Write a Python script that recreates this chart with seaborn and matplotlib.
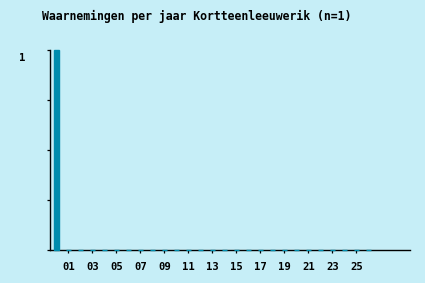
import matplotlib
matplotlib.use("Agg")
import matplotlib.pyplot as plt
import matplotlib.transforms as mtransforms
import seaborn as sns
import pandas as pd

title = "Waarnemingen per jaar Kortteenleeuwerik (n=1)"
years = ["00", "01", "02", "03", "04", "05", "06", "07", "08", "09", "10", "11", "12",
         "13", "14", "15", "16", "17", "18", "19", "20", "21", "22", "23", "24", "25", "26"]
counts = [1, 0, 0, 0, 0, 0, 0, 0, 0, 0, 0, 0, 0,
          0, 0, 0, 0, 0, 0, 0, 0, 0, 0, 0, 0, 0, 0]
tick_labels = ["01", "03", "05", "07", "09", "11", "13", "15", "17", "19", "21", "23", "25"]
y_tick_values = [0, 0.25, 0.5, 0.75, 1]
y_tick_labels = ["", "", "", "", "1"]

bg = "#C6EEF7"
bar_color = "#008CAD"

sns.set_theme(style="white")
plt.rcParams["font.family"] = ["DejaVu Sans Mono"]
plt.rcParams["font.weight"] = "bold"

W, H = 425, 283
fig = plt.figure(figsize=(W / 100, H / 100), dpi=100, facecolor=bg)
ax = fig.add_axes([50 / W, 33 / H, 360 / W, 200 / H])
ax.set_facecolor(bg)

df = pd.DataFrame({"year": years, "count": counts})
sns.barplot(data=df, x="year", y="count", order=years, color=bar_color,
            saturation=1, width=0.4, edgecolor=bar_color, linewidth=1.0, ax=ax)
for p in ax.patches:
    p.set_zorder(3)
    p.set_clip_on(False)

ax.set_xlim(-0.54, 29.46)
ax.set_ylim(0, 1)
ax.set_xlabel("")
ax.set_ylabel("")

ax.set_xticks([years.index(t) for t in tick_labels])
ax.set_xticklabels(tick_labels, fontsize=7.6, fontweight="bold", family="DejaVu Sans Mono")
ax.set_yticks(y_tick_values)
ax.set_yticklabels(y_tick_labels, fontsize=7.6, fontweight="bold", family="DejaVu Sans Mono")

for s in ["top", "right"]:
    ax.spines[s].set_visible(False)
for s in ["left", "bottom"]:
    ax.spines[s].set_color("black")
    ax.spines[s].set_linewidth(1.0)
    ax.spines[s].set_zorder(2)

ax.tick_params(axis="x", bottom=True, direction="out", length=2.2, width=0.9, color="black",
               pad=6.5, labelcolor="black")
ax.tick_params(axis="y", left=True, direction="out", length=2.2, width=0.9, color="black",
               pad=15.5, labelcolor="black")

shift = mtransforms.ScaledTranslation(0, -7 / 100, fig.dpi_scale_trans)
for lbl in ax.get_yticklabels():
    lbl.set_transform(lbl.get_transform() + shift)

fig.text(42 / W, 1 - 16 / H, title, ha="left", va="center", fontsize=8.3,
         fontweight="bold", family="DejaVu Sans Mono", color="black")

fig.savefig("out.png", dpi=100, facecolor=bg)
